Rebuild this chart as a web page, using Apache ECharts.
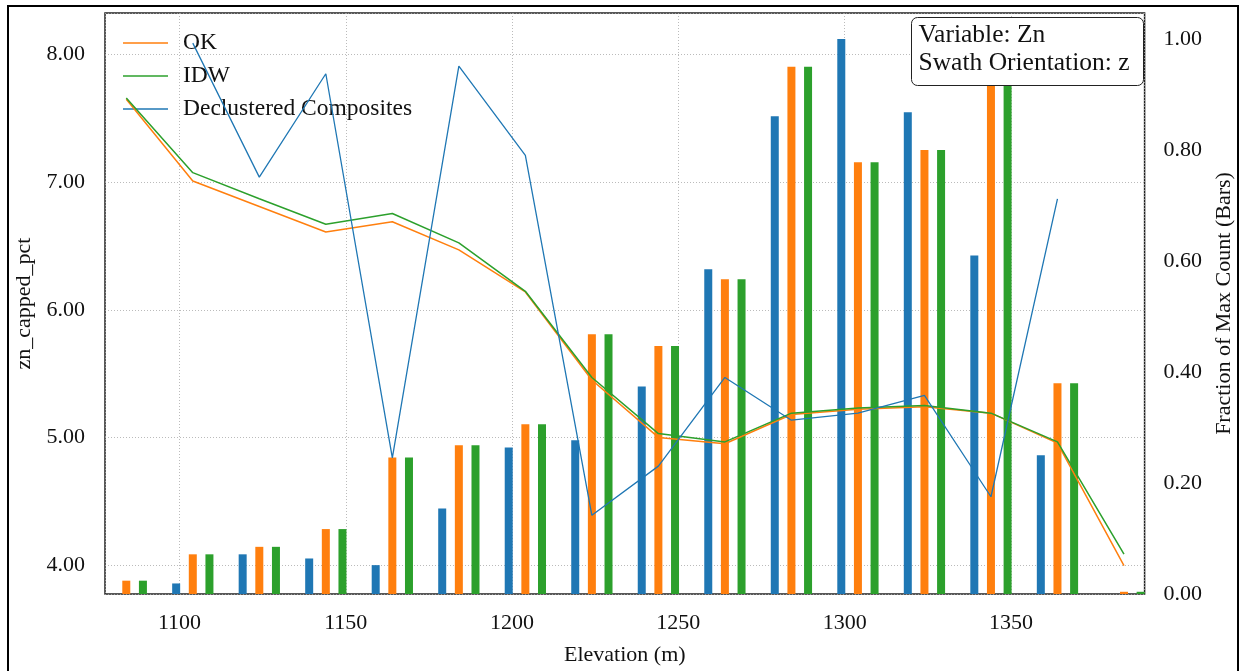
<!DOCTYPE html>
<html lang="en">
<head>
    <meta charset="UTF-8">
    <title>swath_zn</title>
    <style>
        html, body { margin: 0; padding: 0; background: #fff; }
    </style>
</head>
<body>
<div id="chart" style="width:1243px;height:671px;"></div>
<script type="text/javascript" src="https://cdn.jsdelivr.net/npm/echarts@6/dist/echarts.min.js"></script>
<script type="text/javascript">
    // bin centres along elevation
    let elevation = [1084, 1104, 1124, 1144, 1164, 1184, 1204, 1224, 1244, 1264, 1284, 1304, 1324, 1344, 1364, 1384];

    // grade profiles (left axis)
    let okGrade = [7.65, 7.01, 6.81, 6.61, 6.69, 6.47, 6.14, 5.45, 5.00, 4.95, 5.18, 5.22, 5.24, 5.19, 4.955, 3.995];
    let idwGrade = [7.66, 7.075, 6.87, 6.67, 6.755, 6.525, 6.145, 5.47, 5.03, 4.965, 5.19, 5.23, 5.25, 5.19, 4.965, 4.085];
    let declGrade = [null, 8.09, 7.04, 7.85, 4.84, 7.91, 7.21, 4.39, 4.775, 5.47, 5.135, 5.19, 5.33, 4.535, 6.87, null];

    // fraction of max count (right axis, bars)
    let declCount = [0, 0.019, 0.0715, 0.064, 0.052, 0.154, 0.264, 0.277, 0.374, 0.585, 0.861, 1.0, 0.868, 0.610, 0.250, 0];
    let okCount = [0.024, 0.0715, 0.085, 0.117, 0.246, 0.268, 0.306, 0.468, 0.447, 0.567, 0.950, 0.778, 0.800, 1.0, 0.380, 0.004];
    let idwCount = [0.024, 0.0715, 0.085, 0.117, 0.246, 0.268, 0.306, 0.468, 0.447, 0.567, 0.950, 0.778, 0.800, 1.0, 0.380, 0.004];

    let blue = '#1f77b4', orange = '#ff7f0e', green = '#2ca02c';
    let font = 'Liberation Serif';

    function pairs(vals) {
        return elevation.map(function (e, i) { return [e, vals[i]]; });
    }

    function near(v, step) {
        let r = v / step;
        return Math.abs(r - Math.round(r)) < 1e-6;
    }

    let gridLine = {show: true, lineStyle: {color: '#aaaaaa', width: 0.8, type: [1, 2]}};

    function barSeries(name, vals, color) {
        return {
            name: name,
            type: 'bar',
            yAxisIndex: 1,
            barWidth: 8,
            barGap: '108%',
            itemStyle: {color: color},
            data: pairs(vals),
            z: 2
        };
    }

    function lineSeries(name, vals, color, width) {
        return {
            name: name,
            type: 'line',
            yAxisIndex: 0,
            symbol: 'none',
            lineStyle: {color: color, width: width},
            itemStyle: {color: color},
            data: pairs(vals),
            z: 5
        };
    }

    let myChart = echarts.init(document.getElementById('chart'));

    let option = {
        animation: false,
        textStyle: {fontFamily: font},
        grid: {
            left: 105, right: 96, top: 13, bottom: 77,
            show: true, borderColor: '#222', borderWidth: 1.5, backgroundColor: 'transparent'
        },
        legend: {
            data: [
                {name: 'OK', icon: 'rect'},
                {name: 'IDW', icon: 'rect'},
                {name: 'Declustered Composites', icon: 'rect'}
            ],
            orient: 'vertical',
            left: 123, top: 31,
            padding: 0,
            itemWidth: 45, itemHeight: 1.5, itemGap: 9,
            textStyle: {fontFamily: font, fontSize: 23.5, color: '#111', padding: [0, 0, 0, 10]}
        },
        xAxis: {
            type: 'value',
            min: 1077.6, max: 1390.2,
            name: 'Elevation (m)',
            nameLocation: 'middle',
            nameGap: 50,
            nameTextStyle: {fontFamily: font, fontSize: 22, color: '#111'},
            axisLine: {show: false},
            axisTick: {show: false},
            axisLabel: {
                margin: 18, fontFamily: font, fontSize: 22, color: '#111',
                formatter: function (v) { return near(v, 50) ? String(v) : ''; }
            },
            splitLine: gridLine
        },
        yAxis: [{
            type: 'value',
            min: 3.773, max: 8.326,
            name: 'zn_capped_pct',
            nameLocation: 'middle',
            nameGap: 60,
            nameTextStyle: {fontFamily: font, fontSize: 22, color: '#111'},
            axisLine: {show: false},
            axisTick: {show: false},
            axisLabel: {
                margin: 20, fontFamily: font, fontSize: 22, color: '#111',
                formatter: function (v) { return near(v, 1) ? v.toFixed(2) : ''; }
            },
            splitLine: gridLine
        }, {
            type: 'value',
            position: 'right',
            min: 0, max: 1.047, interval: 0.2,
            name: 'Fraction of Max Count (Bars)',
            nameLocation: 'middle',
            nameGap: 66,
            nameRotate: 90,
            nameTextStyle: {fontFamily: font, fontSize: 22, color: '#111'},
            axisLine: {show: false},
            axisTick: {show: false},
            axisLabel: {
                margin: 19, fontFamily: font, fontSize: 22, color: '#111',
                formatter: function (v) { return near(v, 0.2) ? v.toFixed(2) : ''; }
            },
            splitLine: {show: false}
        }],
        series: [
            barSeries('Declustered count', declCount, blue),
            barSeries('OK count', okCount, orange),
            barSeries('IDW count', idwCount, green),
            lineSeries('OK', okGrade, orange, 1.5),
            lineSeries('IDW', idwGrade, green, 1.5),
            lineSeries('Declustered Composites', declGrade, blue, 1.3)
        ],
        graphic: [
            {
                type: 'rect', z: 100, silent: true,
                shape: {x: 8, y: 6, width: 1230, height: 672},
                style: {fill: 'none', stroke: '#000', lineWidth: 2}
            },
            {
                type: 'group', z: 100, left: 911, top: 17,
                children: [
                    {
                        type: 'rect', z: 100,
                        shape: {x: 0, y: 0, width: 232, height: 68, r: 6},
                        style: {fill: '#fff', stroke: '#222', lineWidth: 1}
                    },
                    {
                        type: 'text', z: 101, x: 7, y: 18,
                        style: {text: 'Variable: Zn', font: '25.5px "Liberation Serif"', fill: '#111', verticalAlign: 'middle'}
                    },
                    {
                        type: 'text', z: 101, x: 7, y: 46,
                        style: {text: 'Swath Orientation: z', font: '25.5px "Liberation Serif"', fill: '#111', verticalAlign: 'middle'}
                    }
                ]
            }
        ]
    };

    myChart.setOption(option);
</script>
</body>
</html>
